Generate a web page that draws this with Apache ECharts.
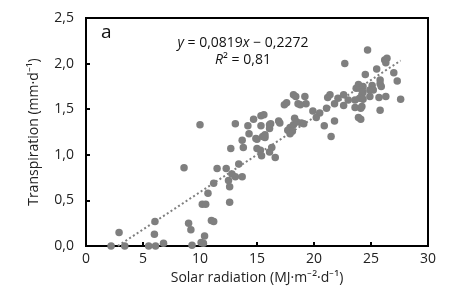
<!DOCTYPE html>
<html><head><meta charset="utf-8">
<script src="https://cdn.jsdelivr.net/npm/echarts@6/dist/echarts.min.js"></script>
<style>html,body{margin:0;padding:0;background:#fff}#c{width:449px;height:290px}</style>
</head><body><div id="c"></div>
<script>
// Solar radiation (MJ·m-2·d-1)
const solarX = [2.2,2.9,3.4,5.5,6.0,6.05,6.1,6.8,8.6,
9.0,9.2,9.3,10.1,10.3,10.4,10.2,10.5,10.7,11.0,11.2,12.6,11.2,12.5,12.6,10.0,11.5,12.3,12.8,13.1,13.7,13.4,12.7,13.8,13.7,13.1,14.2,14.7,14.3,
15.0,15.0,15.3,15.4,16.1,16.3,16.6,15.7,14.9,15.35,15.6,15.35,16.1,16.1,16.2,16.9,17.0,15.5,15.7,
17.4,17.6,18.2,18.4,18.6,19.2,19.3,18.3,17.9,17.7,18.2,18.5,18.9,19.1,18.1,17.9,19.9,20.2,20.5,18.8,
20.9,21.1,21.2,21.4,21.5,21.8,21.8,22.1,22.6,22.6,22.7,
23.0,23.6,23.6,24.1,23.9,24.1,23.9,23.7,24.0,24.3,24.3,24.2,24.0,24.3,24.2,24.5,24.7,25.1,24.9,25.2,24.9,25.5,25.8,25.8,25.9,25.7,25.8,26.2,26.4,26.3,26.3,27.0,27.3,27.6];
// Transpiration (mm·d-1)
const transpY = [0.0,0.15,0.0,0.0,0.13,0.27,0.0,0.03,0.86,
0.25,0.18,0.01,0.04,0.03,0.11,0.46,0.46,0.58,0.28,0.27,0.48,0.69,0.72,0.65,1.33,0.85,0.85,0.79,0.76,0.76,0.90,1.07,1.08,1.16,1.34,1.32,1.39,1.23,
1.17,1.07,1.05,0.99,1.03,1.08,0.97,1.19,1.18,1.43,1.44,1.32,1.33,1.29,1.34,1.37,1.35,1.20,1.22,
1.55,1.57,1.66,1.64,1.56,1.64,1.56,1.40,1.30,1.27,1.33,1.36,1.35,1.34,1.26,1.23,1.48,1.41,1.46,1.55,
1.32,1.51,1.63,1.66,1.20,1.37,1.56,1.62,1.66,1.54,2.00,
1.60,1.60,1.52,1.51,1.41,1.39,1.77,1.73,1.73,1.75,1.69,1.66,1.62,1.61,1.53,1.88,2.15,1.76,1.71,1.71,1.64,1.94,1.82,1.78,1.75,1.63,1.49,2.04,2.06,2.01,1.64,1.90,1.81,1.61];
const slope = 0.0819, intercept = -0.2272;
const trendX = [2.8, 27.6];
const xTicks = [0,5,10,15,20,25,30];
const yTicks = [0,0.5,1,1.5,2,2.5];

const pts = solarX.map((x,i)=>[x,transpY[i]]);
const trend = trendX.map(x=>[x, slope*x+intercept]);
const fmt = v => v.toFixed(1).replace('.', ',');
const FONT = 'Open Sans';
const chart = echarts.init(document.getElementById('c'));
chart.setOption({
  animation:false,
  grid:{left:86,right:21,top:18,bottom:39,show:true,borderColor:'#000',borderWidth:2,backgroundColor:'transparent'},
  xAxis:{type:'value',min:xTicks[0],max:xTicks[xTicks.length-1],interval:5,
    axisLine:{lineStyle:{color:'#000',width:2}},
    axisTick:{inside:true,length:4,lineStyle:{color:'#000',width:2}},
    splitLine:{show:false},
    axisLabel:{color:'#222',fontSize:14,fontFamily:FONT,margin:6},
    name:'Solar radiation (MJ·m⁻²·d⁻¹)',nameLocation:'middle',nameGap:22,
    nameTextStyle:{color:'#222',fontSize:14,fontFamily:FONT}},
  yAxis:{type:'value',min:yTicks[0],max:yTicks[yTicks.length-1],interval:0.5,
    axisLine:{lineStyle:{color:'#000',width:2}},
    axisTick:{inside:true,length:4,lineStyle:{color:'#000',width:2}},
    splitLine:{show:false},
    axisLabel:{color:'#222',fontSize:14,fontFamily:FONT,margin:12,formatter:fmt},
    name:'Transpiration (mm·d⁻¹)',nameLocation:'middle',nameGap:45,
    nameTextStyle:{color:'#222',fontSize:14,fontFamily:FONT}},
  series:[
    {type:'scatter',data:pts,symbolSize:7.5,itemStyle:{color:'#7f7f7f',opacity:1},z:2},
    {type:'line',data:trend,showSymbol:false,symbol:'none',lineStyle:{color:'#7f7f7f',width:2,type:[2,2.5]},z:3}
  ],
  graphic:[
    {type:'text',left:101,top:23,style:{text:'a',font:'19px "Open Sans"',fill:'#111'}},
    {type:'text',x:243,y:43,style:{text:'{i|y} = 0,0819{i|x} − 0,2272',align:'center',verticalAlign:'middle',
      font:'14px "Open Sans"',fill:'#111',rich:{i:{fontStyle:'italic',fontSize:14,fontFamily:FONT}}}},
    {type:'text',x:243,y:60,style:{text:'{i|R}² = 0,81',align:'center',verticalAlign:'middle',
      font:'14px "Open Sans"',fill:'#111',rich:{i:{fontStyle:'italic',fontSize:14,fontFamily:FONT}}}}
  ]
});
</script></body></html>
